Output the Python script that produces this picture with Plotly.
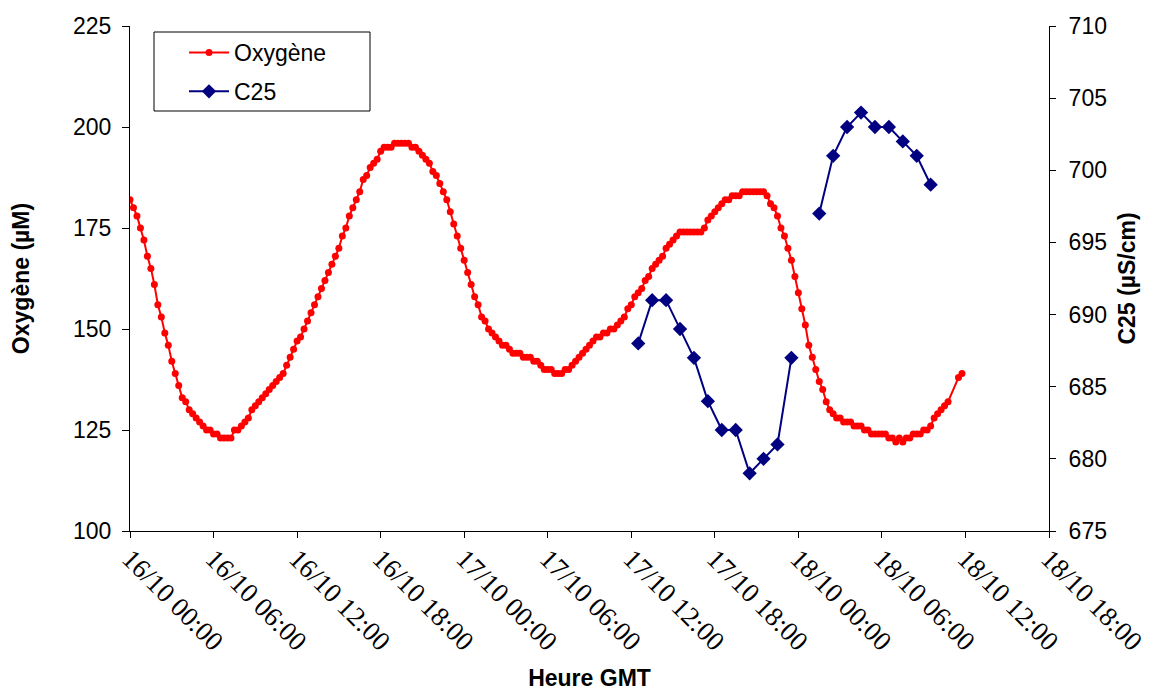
import datetime as dt
import plotly.graph_objects as go

# ---------------- data ----------------
start = dt.datetime(2007, 10, 16, 0, 0)
oxy_step_min = 15
oxygene = [
    182, 180, 178, 175, 172, 168, 165, 161, 156, 153, 149, 146, 142, 139, 136,
    133, 132, 130, 129, 128, 127, 126, 125, 125, 124, 124, 123, 123, 123, 123,
    125, 125, 126, 127, 128, 130, 131, 132, 133, 134, 135, 136, 137, 138, 139,
    141, 143, 145, 147, 148, 150, 152, 154, 156, 158, 160, 162, 164, 166, 168,
    170, 173, 175, 178, 180, 182, 184, 187, 188, 190, 191, 192, 194, 195, 195,
    195, 196, 196, 196, 196, 196, 195, 195, 194, 193, 192, 191, 189, 188, 186,
    184, 182, 179, 176, 173, 170, 167, 164, 161, 158, 156, 153, 152, 150, 149,
    148, 147, 146, 146, 145, 144, 144, 144, 143, 143, 143, 142, 142, 141, 140,
    140, 140, 139, 139, 139, 140, 140, 141, 142, 143, 144, 145, 146, 147, 148,
    148, 149, 149, 150, 150, 151, 152, 153, 155, 156, 158, 159, 160, 162, 163,
    165, 166, 167, 168, 170, 171, 172, 173, 174, 174, 174, 174, 174, 174, 174,
    175, 177, 178, 179, 180, 181, 182, 182, 183, 183, 183, 184, 184, 184, 184,
    184, 184, 184, 183, 181, 180, 178, 175, 173, 170, 167, 163, 159, 155, 151,
    146, 143, 140, 137, 135, 132, 130, 129, 128, 128, 127, 127, 127, 126, 126,
    126, 125, 125, 124, 124, 124, 124, 124, 123, 123, 122, 123, 122, 123, 123,
    124, 124, 124, 125, 125, 126, 128, 129, 130, 131, 132, None, None, 138, 139,
]
oxy_times = [start + dt.timedelta(minutes=oxy_step_min * i) for i in range(len(oxygene))]

c25_start = dt.datetime(2007, 10, 17, 12, 30)
c25 = [688, 691, 691, 689, 687, 684, 682, 682, 679, 680, 681, 687,
       None, 697, 701, 703, 704, 703, 703, 702, 701, 699]
c25_times = [c25_start + dt.timedelta(hours=i) for i in range(len(c25))]

x_range = ["2007-10-16 00:00", "2007-10-18 18:00"]
y1_range = [100, 225]
y2_range = [675, 710]

# ---------------- figure ----------------
SANS = "Liberation Sans, Arial, sans-serif"
SERIF = "Liberation Serif, Times New Roman, serif"

W, H = 1168, 691
ML, MR, MT, MB = 130, 119, 26, 160
PW, PH = W - ML - MR, H - MT - MB


def px_to_paper_x(px):
    return (px - ML) / PW


def px_to_paper_y(py):
    return (H - MB - py) / PH


fig = go.Figure()
fig.add_trace(go.Scatter(
    x=oxy_times, y=oxygene, name="Oxygène", mode="lines+markers",
    line=dict(color="#FF0000", width=2),
    marker=dict(symbol="circle", size=7, color="#FF0000"),
    connectgaps=True, yaxis="y", legendgroup="a",
))
fig.add_trace(go.Scatter(
    x=c25_times, y=c25, name="C25", mode="lines+markers",
    line=dict(color="#000080", width=2),
    marker=dict(symbol="diamond", size=11, color="#000080"),
    connectgaps=False, yaxis="y2", legendgroup="b",
))

fig.update_layout(
    width=W, height=H,
    margin=dict(l=ML, r=MR, t=MT, b=MB, autoexpand=False),
    paper_bgcolor="white", plot_bgcolor="white",
    font=dict(family=SANS, size=23, color="black"),
    xaxis=dict(
        type="date", range=x_range, tick0=x_range[0], dtick=6 * 3600 * 1000,
        tickformat="%d/%m %H:%M", tickangle=45,
        tickfont=dict(family=SERIF, size=27, color="black"),
        ticks="outside", ticklen=6, tickcolor="black", ticklabelstandoff=-6,
        showline=True, linecolor="black", linewidth=1,
        showgrid=False, zeroline=False, automargin=False,
        title=dict(text="<b>Heure GMT</b>", font=dict(family=SANS, size=23), standoff=37),
    ),
    yaxis=dict(
        range=y1_range, dtick=25, ticks="outside", ticklen=7, tickcolor="black",
        tickfont=dict(family=SANS, size=23),
        showline=True, linecolor="black", linewidth=1,
        showgrid=False, zeroline=False, ticklabelstandoff=6, automargin=False,
        title=dict(text="<b>Oxygène (µM)</b>", font=dict(family=SANS, size=23), standoff=36),
    ),
    yaxis2=dict(
        range=y2_range, dtick=5, overlaying="y", side="right", anchor="x",
        ticks="outside", ticklen=6, tickcolor="black",
        tickfont=dict(family=SANS, size=23),
        showline=True, linecolor="black", linewidth=1,
        showgrid=False, zeroline=False, ticklabelstandoff=8, automargin=False,
        title=dict(text="<b>C25 (µS/cm)</b>", font=dict(family=SANS, size=23), standoff=12),
    ),
    yaxis3=dict(
        range=y2_range, dtick=5, overlaying="y", side="right", anchor="x",
        ticks="inside", ticklen=6, tickcolor="black", showticklabels=False,
        showline=False, showgrid=False, zeroline=False, automargin=False,
    ),
    legend=dict(
        x=px_to_paper_x(184), y=px_to_paper_y(31), xanchor="left", yanchor="top",
        borderwidth=0, bgcolor="rgba(0,0,0,0)",
        font=dict(family=SANS, size=23), itemwidth=40, tracegroupgap=6,
    ),
    shapes=[dict(
        type="rect", xref="paper", yref="paper",
        x0=px_to_paper_x(154), x1=px_to_paper_x(370),
        y0=px_to_paper_y(111), y1=px_to_paper_y(32),
        line=dict(color="black", width=1), fillcolor="white", layer="below",
    )],
)

fig.write_html("out.html")
